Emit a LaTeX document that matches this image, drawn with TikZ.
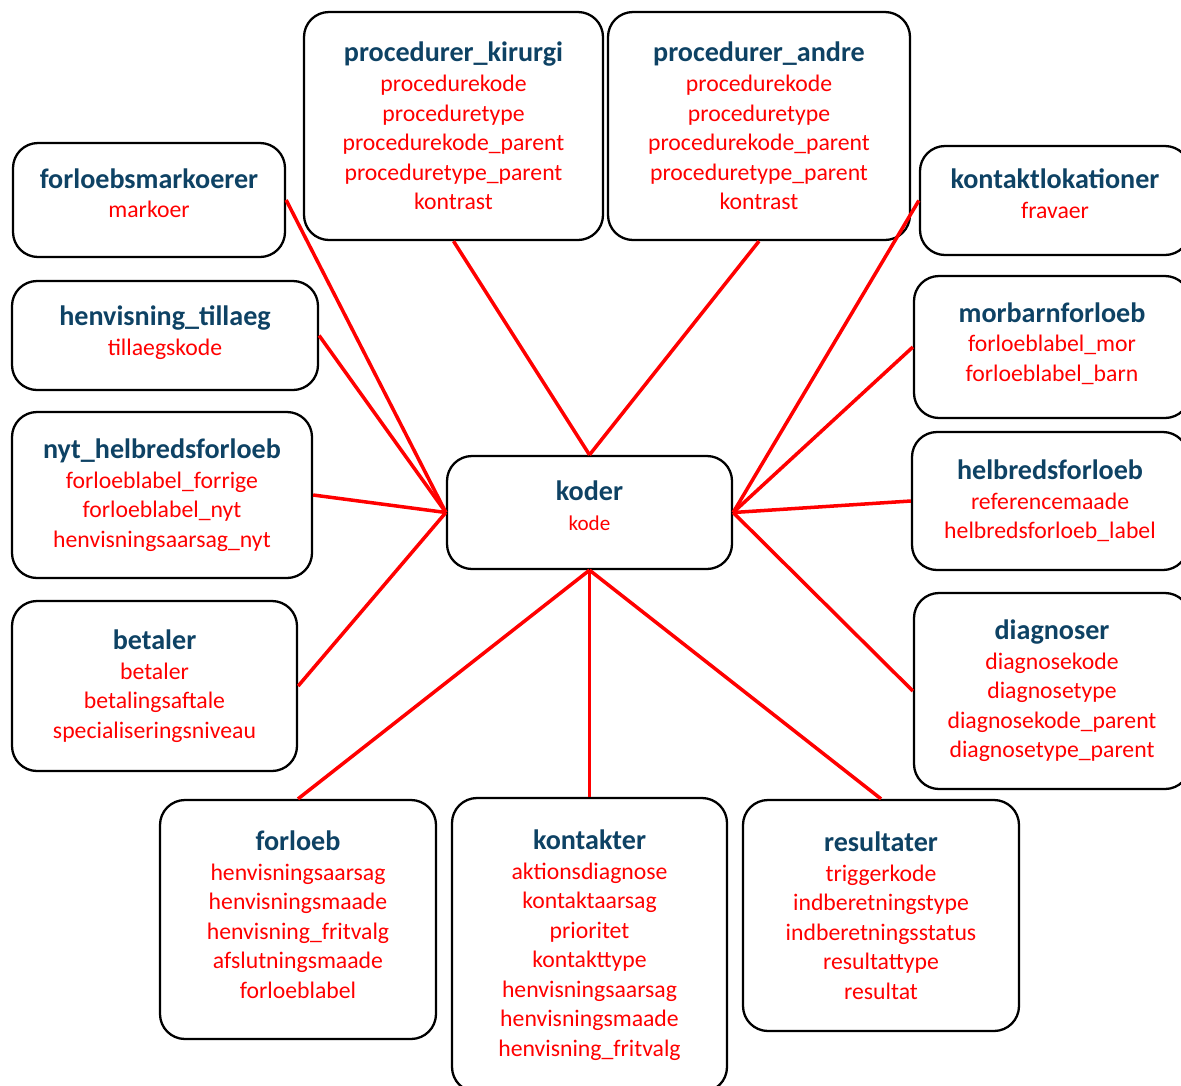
\documentclass[tikz,border=0pt]{standalone}
\usepackage{fontspec}
\setmainfont{Carlito}
\definecolor{hdblue}{RGB}{14,66,100}
\newcommand{\hd}[1]{{\fontsize{16}{18}\selectfont\bfseries\color{hdblue}#1}}

\begin{document}
\begin{tikzpicture}[
  x=0.2mm, y=-0.2mm,
  tbl/.style 2 args={
    draw, line width=1.3pt, rounded corners=5mm, align=center,
    minimum width=#1*0.2mm, minimum height=#2*0.2mm,
    text=red, font=\fontsize{13.5}{16.8}\selectfont
  },
  lnk/.style={red, line width=2pt}
  ]
  \clip (0,0) rectangle (1181,1085);
  % centre
  \node[tbl={285}{113}] (ko) at (589.5,512.5) {\hd{koder}\\{\fontsize{12}{14}\selectfont kode}\\[-9pt]\mbox{}};
  % top
  \node[tbl={299}{228}] (pk) at (453.5,126) {\hd{procedurer\_kirurgi}\\procedurekode\\proceduretype\\procedurekode\_parent\\proceduretype\_parent\\kontrast};
  \node[tbl={302}{228}] (pa) at (759,126) {\hd{procedurer\_andre}\\procedurekode\\proceduretype\\procedurekode\_parent\\proceduretype\_parent\\kontrast};
  % left
  \node[tbl={272}{114}] (fm) at (149,200) {\hd{forloebsmarkoerer}\\markoer\\[-9pt]\mbox{}};
  \node[tbl={306}{109}] (ht) at (165,335.5) {\hd{henvisning\_tillaeg}\\tillaegskode\\[-11pt]\mbox{}};
  \node[tbl={300}{166}] (nh) at (162,495) {\hd{nyt\_helbredsforloeb}\\forloeblabel\_forrige\\forloeblabel\_nyt\\henvisningsaarsag\_nyt};
  \node[tbl={285}{170}] (be) at (154.5,686) {\hd{betaler}\\betaler\\betalingsaftale\\specialiseringsniveau};
  % right
  \node[tbl={270}{109}] (kl) at (1055,200.5) {\hd{kontaktlokationer}\\fravaer\\[-9pt]\mbox{}};
  \node[tbl={276}{142}] (mb) at (1052,347) {\hd{morbarnforloeb}\\forloeblabel\_mor\\forloeblabel\_barn\\[-11pt]\mbox{}};
  \node[tbl={276}{138}] (hf) at (1050,501) {\hd{helbredsforloeb}\\referencemaade\\helbredsforloeb\_label};
  \node[tbl={276}{196}] (di) at (1052,691) {\hd{diagnoser}\\diagnosekode\\diagnosetype\\diagnosekode\_parent\\diagnosetype\_parent};
  % bottom
  \node[tbl={276}{239}] (fo) at (298,919.5) {\hd{forloeb}\\henvisningsaarsag\\henvisningsmaade\\henvisning\_fritvalg\\afslutningsmaade\\forloeblabel\\[-11pt]\mbox{}};
  \node[tbl={275}{294}] (kt) at (589.5,945) {\hd{kontakter}\\aktionsdiagnose\\kontaktaarsag\\prioritet\\kontakttype\\henvisningsaarsag\\henvisningsmaade\\henvisning\_fritvalg};
  \node[tbl={276}{231}] (re) at (881,915.5) {\hd{resultater}\\triggerkode\\indberetningstype\\indberetningsstatus\\resultattype\\resultat};
  % links
  \foreach \n in {fm,ht,nh,be}
    \draw[lnk] (ko.west) -- (\n.east);
  \foreach \n in {kl,mb,hf,di}
    \draw[lnk] (ko.east) -- (\n.west);
  \foreach \n in {pk,pa}
    \draw[lnk] (ko.north) -- (\n.south);
  \foreach \n in {fo,kt,re}
    \draw[lnk] (ko.south) -- (\n.north);
\end{tikzpicture}
\end{document}
